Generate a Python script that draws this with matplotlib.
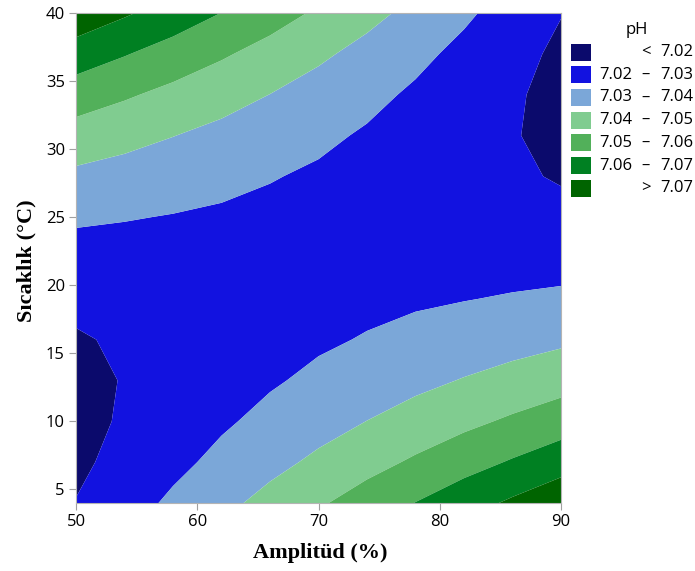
import numpy as np
import matplotlib
matplotlib.use("Agg")
import matplotlib.pyplot as plt
from matplotlib.patches import Rectangle

# grid
amplitude = [50, 54, 58, 62, 66, 70, 74, 78, 82, 86, 90]          # Amplitüd (%)
temperature = [4, 7, 10, 13, 16, 19, 22, 25, 28, 31, 34, 37, 40]  # Sıcaklık (°C)
ph_T04 = [7.0203, 7.0260, 7.0317, 7.0374, 7.0431, 7.0488, 7.0545, 7.0602, 7.0659, 7.0716, 7.0773]
ph_T07 = [7.0181, 7.0229, 7.0276, 7.0324, 7.0372, 7.0419, 7.0467, 7.0514, 7.0562, 7.0609, 7.0657]
ph_T10 = [7.0172, 7.0210, 7.0248, 7.0287, 7.0325, 7.0363, 7.0401, 7.0439, 7.0477, 7.0515, 7.0553]
ph_T13 = [7.0176, 7.0204, 7.0233, 7.0262, 7.0290, 7.0319, 7.0347, 7.0376, 7.0405, 7.0433, 7.0462]
ph_T16 = [7.0192, 7.0211, 7.0230, 7.0249, 7.0268, 7.0287, 7.0306, 7.0326, 7.0345, 7.0364, 7.0383]
ph_T19 = [7.0220, 7.0230, 7.0239, 7.0249, 7.0259, 7.0268, 7.0278, 7.0288, 7.0297, 7.0307, 7.0317]
ph_T22 = [7.0261, 7.0261, 7.0261, 7.0262, 7.0262, 7.0262, 7.0262, 7.0262, 7.0263, 7.0263, 7.0263]
ph_T25 = [7.0314, 7.0305, 7.0296, 7.0287, 7.0277, 7.0268, 7.0259, 7.0250, 7.0240, 7.0231, 7.0222]
ph_T28 = [7.0380, 7.0362, 7.0343, 7.0324, 7.0305, 7.0287, 7.0268, 7.0249, 7.0230, 7.0212, 7.0193]
ph_T31 = [7.0459, 7.0431, 7.0402, 7.0374, 7.0346, 7.0318, 7.0290, 7.0261, 7.0233, 7.0205, 7.0177]
ph_T34 = [7.0550, 7.0512, 7.0474, 7.0437, 7.0399, 7.0361, 7.0324, 7.0286, 7.0248, 7.0211, 7.0173]
ph_T37 = [7.0653, 7.0606, 7.0559, 7.0512, 7.0465, 7.0417, 7.0370, 7.0323, 7.0276, 7.0229, 7.0182]
ph_T40 = [7.0769, 7.0712, 7.0656, 7.0599, 7.0543, 7.0486, 7.0429, 7.0373, 7.0316, 7.0260, 7.0203]

levels = [7.02, 7.03, 7.04, 7.05, 7.06, 7.07]
band_labels = [("<", "7.02"), ("7.02", "7.03"), ("7.03", "7.04"), ("7.04", "7.05"),
               ("7.05", "7.06"), ("7.06", "7.07"), (">", "7.07")]
colors = ['#0b0a6c', '#1212e0', '#7ba7d8', '#80cc90', '#52b05a', '#008022', '#006400']

Z = np.array([ph_T04, ph_T07, ph_T10, ph_T13, ph_T16, ph_T19, ph_T22,
              ph_T25, ph_T28, ph_T31, ph_T34, ph_T37, ph_T40])
A, T = np.meshgrid(amplitude, temperature)

fig = plt.figure(figsize=(6.95, 5.71), dpi=100)
ax = fig.add_axes([76/695, 1-503/571, 485/695, 490/571])

bounds = [6.9] + levels + [7.2]
ax.contourf(A, T, Z, levels=bounds, colors=colors, antialiased=True)

ax.set_xlim(50, 90)
ax.set_ylim(4, 40)
ax.set_xticks([50, 60, 70, 80, 90])
ax.set_yticks([5, 10, 15, 20, 25, 30, 35, 40])
for sp in ax.spines.values():
    sp.set_color('#b4b4b4')
ax.tick_params(direction='out', length=5, color='#a0a0a0', labelsize=12, pad=3)
for lab in ax.get_xticklabels() + ax.get_yticklabels():
    lab.set_fontfamily('Open Sans')

ax.set_xlabel('Amplitüd (%)', family='Liberation Serif', weight='bold', fontsize=16)
ax.set_ylabel('Sıcaklık (°C)', family='Liberation Serif', weight='bold', fontsize=16)
ax.xaxis.label.set_va('center')
ax.yaxis.label.set_va('center')
ax.xaxis.set_label_coords(0.503, -0.102)
ax.yaxis.set_label_coords(-0.103, 0.495)

# legend built by hand
fig.text(637/695, 1-30/571, 'pH', ha='center', va='center', family='Open Sans', fontsize=12)
for k, (lo, hi) in enumerate(band_labels):
    yc = 52 + k*22.7
    fig.add_artist(Rectangle((571/695, 1-(yc+8.5)/571), 20/695, 17/571,
                             transform=fig.transFigure, facecolor=colors[k], edgecolor='none'))
    fy = 1 - yc/571
    if lo in ("<", ">"):
        fig.text(646/695, fy, lo, ha='center', va='center', family='Open Sans', fontsize=12)
    else:
        fig.text(632/695, fy, lo, ha='right', va='center', family='Open Sans', fontsize=12)
        fig.text(645/695, fy, '–', ha='center', va='center', family='Open Sans', fontsize=12)
    fig.text(693/695, fy, hi, ha='right', va='center', family='Open Sans', fontsize=12)

fig.savefig('out.png', dpi=100)
